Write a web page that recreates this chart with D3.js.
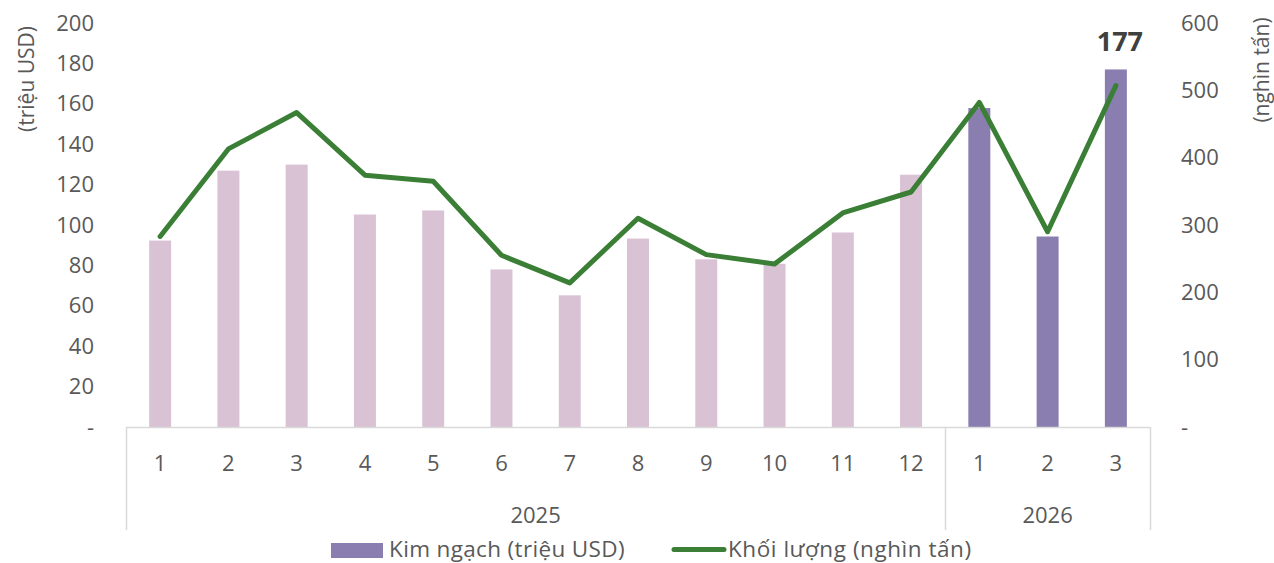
<!DOCTYPE html>
<html>
<head>
<meta charset="utf-8">
<script src="https://cdn.jsdelivr.net/npm/d3@7"></script>
<style>
body{margin:0;background:#fff;}
text{font-family:"Open Sans",sans-serif;}
</style>
</head>
<body>
<script>
// dữ liệu
var months = ['1','2','3','4','5','6','7','8','9','10','11','12','1','2','3'];
var years = [{name:'2025',from:0,to:11},{name:'2026',from:12,to:14}];
var kimNgach = [92.3,126.9,129.9,105.2,107.2,78,65.2,93.3,83,80.8,96.3,124.9,157.9,94.3,177];
var khoiLuong = [283,413,467,374,365,255,214,310,256,242,318,349,482,290,507];
var leftTicks = [0,20,40,60,80,100,120,140,160,180,200];
var rightTicks = [0,100,200,300,400,500,600];

var width = 1274, height = 563,
	pLeft = 126, pRight = 1150, pTop = 23, pBottom = 427;

var svg = d3.select('body').append('svg')
	.attr('width',width)
	.attr('height',height);

var x = d3.scaleBand().domain(d3.range(months.length)).range([pLeft,pRight]).paddingInner(0.678).paddingOuter(0.339);
var yL = d3.scaleLinear().domain([0,200]).range([pBottom,pTop]);
var yR = d3.scaleLinear().domain([0,600]).range([pBottom,pTop]);

// cột
svg.append('g').selectAll('rect').data(kimNgach).enter().append('rect')
	.attr('x',function(d,i){return x(i);})
	.attr('y',function(d){return yL(d);})
	.attr('width',x.bandwidth())
	.attr('height',function(d){return pBottom-yL(d);})
	.attr('fill',function(d,i){return i<12?'#DAC2D5':'#8A7DAF';});

// đường
var line = d3.line()
	.x(function(d,i){return x(i)+x.bandwidth()/2;})
	.y(function(d){return yR(d);});
svg.append('path').attr('d',line(khoiLuong))
	.attr('fill','none').attr('stroke','#3A7F35').attr('stroke-width',5)
	.attr('stroke-linejoin','round').attr('stroke-linecap','round');

// nhãn 177
var last = kimNgach.length-1;
svg.append('text').text(kimNgach[last])
	.attr('x',x(last)+x.bandwidth()/2+4).attr('y',yL(kimNgach[last])-18)
	.attr('text-anchor','middle').attr('font-size',27).attr('font-weight','bold').attr('fill','#404040');

// trục trái, phải
var fmt = function(d){return d===0?'-':d;};
var axisL = d3.axisLeft(yL).tickValues(leftTicks).tickFormat(fmt).tickSize(0).tickPadding(0);
var gL = svg.append('g').attr('transform','translate(94,0)').call(axisL);
gL.select('.domain').remove();
gL.selectAll('text').attr('font-size',22).attr('fill','#595959').attr('font-family','Open Sans');

var axisR = d3.axisRight(yR).tickValues(rightTicks).tickFormat(fmt).tickSize(0).tickPadding(0);
var gR = svg.append('g').attr('transform','translate(1181,0)').call(axisR);
gR.select('.domain').remove();
gR.selectAll('text').attr('font-size',22).attr('fill','#595959').attr('font-family','Open Sans');

svg.append('text').text('(triệu USD)')
	.attr('transform','translate(34,79) rotate(-90)')
	.attr('text-anchor','middle').attr('font-size',21).attr('fill','#595959');
svg.append('text').text('(nghìn tấn)')
	.attr('transform','translate(1269,70) rotate(-90)')
	.attr('text-anchor','middle').attr('font-size',21).attr('fill','#595959');

// trục danh mục
var axisColor = '#D9D9D9';
svg.append('line').attr('x1',pLeft).attr('x2',pRight).attr('y1',pBottom+0.5).attr('y2',pBottom+0.5)
	.attr('stroke',axisColor).attr('stroke-width',1.5);
var bounds = [pLeft].concat(years.map(function(y){return x(y.to)+x.bandwidth()/2+x.step()/2;}));
svg.append('g').selectAll('line').data(bounds).enter().append('line')
	.attr('x1',function(d){return Math.round(d)+0.5;}).attr('x2',function(d){return Math.round(d)+0.5;})
	.attr('y1',pBottom).attr('y2',530)
	.attr('stroke',axisColor).attr('stroke-width',1.5);

svg.append('g').selectAll('text').data(months).enter().append('text')
	.text(function(d){return d;})
	.attr('x',function(d,i){return x(i)+x.bandwidth()/2;})
	.attr('y',471).attr('text-anchor','middle').attr('font-size',22).attr('fill','#595959');

svg.append('g').selectAll('text').data(years).enter().append('text')
	.text(function(d){return d.name;})
	.attr('x',function(d){return (x(d.from)+x(d.to)+x.bandwidth())/2;})
	.attr('y',523).attr('text-anchor','middle').attr('font-size',22).attr('fill','#595959');

// chú thích
var lg = svg.append('g');
lg.append('rect').attr('x',331).attr('y',543).attr('width',52).attr('height',15).attr('fill','#8A7DAF');
lg.append('text').text('Kim ngạch (triệu USD)').attr('x',389).attr('y',557).attr('font-size',22.5)
	.attr('letter-spacing',0.35).attr('fill','#595959');
lg.append('line').attr('x1',674).attr('x2',724).attr('y1',549.5).attr('y2',549.5)
	.attr('stroke','#3A7F35').attr('stroke-width',5).attr('stroke-linecap','round');
lg.append('text').text('Khối lượng (nghìn tấn)').attr('x',728).attr('y',557).attr('font-size',22.5)
	.attr('letter-spacing',0.55).attr('fill','#595959');
</script>
</body>
</html>
